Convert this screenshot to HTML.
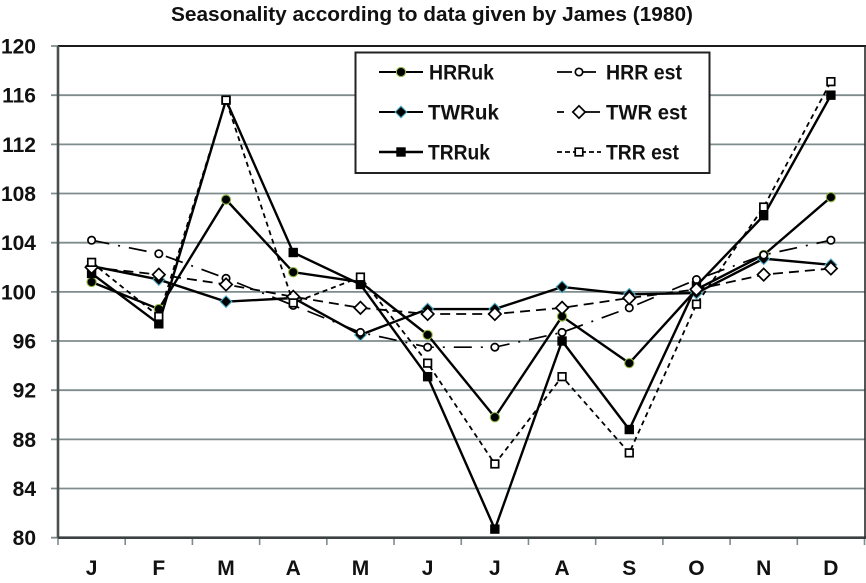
<!DOCTYPE html>
<html lang="en">
<head>
<meta charset="utf-8">
<title>Seasonality according to data given by James (1980)</title>
<style>
html,body{margin:0;padding:0;background:#fff;}
svg{display:block;font-family:"Liberation Sans",sans-serif;font-weight:bold;fill:#111;}
</style>
</head>
<body>
<svg id="chart" width="866" height="583" viewBox="0 0 866 583" xmlns="http://www.w3.org/2000/svg">
<text x="432" y="21" font-size="20" text-anchor="middle" textLength="522" lengthAdjust="spacingAndGlyphs">Seasonality according to data given by James (1980)</text>
</svg>
<script>
var months = ['J','F','M','A','M','J','J','A','S','O','N','D'];
var yTickValues = [80,84,88,92,96,100,104,108,112,116,120];
var yTickLabels = ['80','84','88','92','96','100','104','108','112','116','120'];
var hrrUk = [100.8,98.6,107.5,101.6,100.8,96.5,89.8,98,94.2,100.2,103,107.7];
var twrUk = [102.1,101,99.2,99.5,96.5,98.6,98.6,100.4,99.8,99.9,102.7,102.2];
var trrUk = [101.5,97.4,115.6,103.2,100.6,93.1,80.7,96,88.8,100.5,106.2,116];
var hrrEst = [104.2,103.1,101.1,98.9,96.7,95.5,95.5,96.7,98.7,101,103,104.2];
var twrEst = [102,101.4,100.6,99.6,98.7,98.2,98.2,98.7,99.5,100.2,101.4,101.9];
var trrEst = [102.4,98,115.6,99.1,101.2,94.2,86,93.1,86.9,99,106.9,117.1];

var svg = document.getElementById('chart');
var NS = 'http://www.w3.org/2000/svg';
var plotL = 58, plotR = 864.5, plotT = 46, plotB = 537.7;
function xAt(i){ return plotL + (plotR - plotL) * (i + 0.5) / months.length; }
function yAt(v){ return plotB - (plotB - plotT) * (v - 80) / 40; }
function mk(tag, attrs, parent){
  var el = document.createElementNS(NS, tag);
  for (var k in attrs) el.setAttribute(k, attrs[k]);
  (parent || svg).appendChild(el);
  return el;
}
var GRID = '#7f8c8c';

// gridlines and y ticks
yTickValues.forEach(function(v, i){
  var line = mk('line', {x1: 51, x2: plotR, y1: yAt(v), y2: yAt(v), stroke: GRID, 'stroke-width': 1.8});
  
  
  var t = mk('text', {x: 36, y: yAt(v) + 7.5, 'font-size': 21, 'text-anchor': 'end'});
  t.textContent = yTickLabels[i];
  
  
});

// x ticks and labels
for (var i = 0; i <= months.length; i++) {
  var tx = plotL + (plotR - plotL) * i / months.length;
  var tick = mk('line', {x1: tx, x2: tx, y1: plotB, y2: 545, stroke: GRID, 'stroke-width': 1.6});
  
  
}
months.forEach(function(m, i){
  var t = mk('text', {x: xAt(i), y: 575, 'font-size': 21, 'text-anchor': 'middle'});
  t.textContent = m;
  
  
});

// plot frame
var frameTop = mk('line', {x1: plotL, x2: 866, y1: plotT, y2: plotT, stroke: '#1c1c1c', 'stroke-width': 2});


var frameLeft = mk('line', {x1: plotL, x2: plotL, y1: plotT, y2: plotB, stroke: '#4a5050', 'stroke-width': 2.6});


var frameBottom = mk('line', {x1: plotL, x2: 866, y1: plotB, y2: plotB, stroke: '#3c4242', 'stroke-width': 2.6});


var frameRight = mk('line', {x1: 865, x2: 865, y1: plotT, y2: plotB, stroke: '#2a2a2a', 'stroke-width': 1.6});



function marker(parent, kind, cx, cy){
  var s;
  if (kind === 'hrrUk') s = mk('circle', {cx: cx, cy: cy, r: 4.6, fill: '#000', stroke: '#8fb83c', 'stroke-width': 1.1}, parent);
  else if (kind === 'twrUk') s = mk('polygon', {points: (cx-5.8)+','+cy+' '+cx+','+(cy-5.8)+' '+(cx+5.8)+','+cy+' '+cx+','+(cy+5.8), fill: '#000', stroke: '#4bacc6', 'stroke-width': 1.1}, parent);
  else if (kind === 'trrUk') s = mk('rect', {x: cx-4.7, y: cy-4.7, width: 9.4, height: 9.4, fill: '#000'}, parent);
  else if (kind === 'hrrEst') s = mk('circle', {cx: cx, cy: cy, r: 3.7, fill: '#fff', stroke: '#000', 'stroke-width': 1.7}, parent);
  else if (kind === 'twrEst') s = mk('polygon', {points: (cx-6.2)+','+cy+' '+cx+','+(cy-6.2)+' '+(cx+6.2)+','+cy+' '+cx+','+(cy+6.2), fill: '#fff', stroke: '#000', 'stroke-width': 1.7}, parent);
  else s = mk('rect', {x: cx-3.8, y: cy-3.8, width: 7.6, height: 7.6, fill: '#fff', stroke: '#000', 'stroke-width': 1.7}, parent);
  return s;
}

var seriesList = [
  {key: 'hrrUk', label: 'HRRuk', data: hrrUk, w: 2.4, dash: ''},
  {key: 'twrUk', label: 'TWRuk', data: twrUk, w: 2.4, dash: ''},
  {key: 'trrUk', label: 'TRRuk', data: trrUk, w: 2.4, dash: ''},
  {key: 'hrrEst', label: 'HRR est', data: hrrEst, w: 1.7, dash: '18 9 2 9'},
  {key: 'twrEst', label: 'TWR est', data: twrEst, w: 1.8, dash: '10 6'},
  {key: 'trrEst', label: 'TRR est', data: trrEst, w: 1.8, dash: '5 4'}
];
seriesList.forEach(function(s){
  var g = mk('g', {});
  
  
  var pts = s.data.map(function(v, i){ return xAt(i) + ',' + yAt(v); }).join(' ');
  var attrs = {points: pts, fill: 'none', stroke: '#000', 'stroke-width': s.w, 'stroke-linejoin': 'miter'};
  if (s.dash) attrs['stroke-dasharray'] = s.dash;
  var line = mk('polyline', attrs, g);
  
  
  s.data.forEach(function(v, i){
    var p = marker(g, s.key, xAt(i), yAt(v));
    
    
  });
});

// legend
var legend = mk('g', {});


var legendBox = mk('rect', {x: 355.5, y: 52.5, width: 354, height: 120.5, fill: '#fff', stroke: '#222', 'stroke-width': 2}, legend);


var legendRows = [
  {key: 'hrrUk', label: 'HRRuk', lx: 379, tx: 429, tl: 65, row: 0, w: 2, dash: ''},
  {key: 'twrUk', label: 'TWRuk', lx: 379, tx: 428, tl: 71, row: 1, w: 2, dash: ''},
  {key: 'trrUk', label: 'TRRuk', lx: 379, tx: 428, tl: 62, row: 2, w: 2.4, dash: ''},
  {key: 'hrrEst', label: 'HRR est', lx: 557, tx: 606, tl: 76, row: 0, w: 1.8, dash: '15 9 15'},
  {key: 'twrEst', label: 'TWR est', lx: 557, tx: 606, tl: 81, row: 1, w: 1.8, dash: '7 12 24'},
  {key: 'trrEst', label: 'TRR est', lx: 557, tx: 606, tl: 73, row: 2, w: 1.8, dash: '5 3'}
];
var legendY = [72, 112, 152];
legendRows.forEach(function(r){
  var g = mk('g', {}, legend);
  
  
  var cy = legendY[r.row];
  var attrs = {x1: r.lx, x2: r.lx + 44, y1: cy, y2: cy, stroke: '#000', 'stroke-width': r.w};
  if (r.dash) attrs['stroke-dasharray'] = r.dash;
  var ln = mk('line', attrs, g);
  
  
  var m = marker(g, r.key, r.lx + 22, cy);
  
  
  var t = mk('text', {x: r.tx, y: cy + 7.5, 'font-size': 21, textLength: r.tl, lengthAdjust: 'spacingAndGlyphs'}, g);
  t.textContent = r.label;
  
  
});
</script>
</body>
</html>
